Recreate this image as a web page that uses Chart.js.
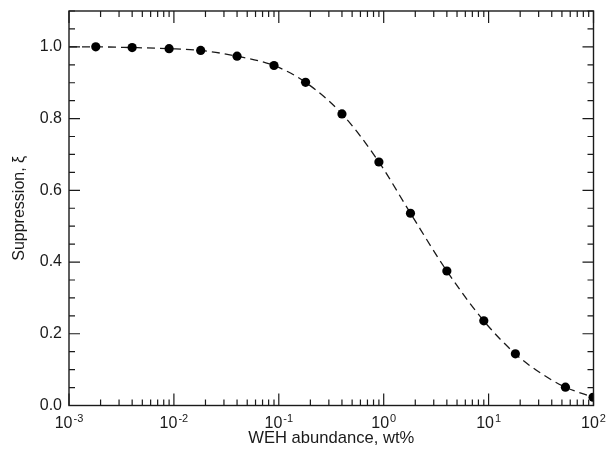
<!DOCTYPE html>
<html>
<head>
<meta charset="utf-8">
<script src="https://cdn.jsdelivr.net/npm/chart.js@4.4.1/dist/chart.umd.min.js"></script>
<style>
  html, body { margin: 0; padding: 0; background: #fff; }
  #wrap { width: 608px; height: 451px; }
</style>
</head>
<body>
<div id="wrap"><canvas id="myChart"></canvas></div>
<script>
// measured suppression vs. WEH abundance (wt%)
const abundance = [0.0018, 0.004, 0.009, 0.018, 0.04, 0.09, 0.18, 0.4, 0.9, 1.8, 4, 9, 18, 54, 99];
const suppression = [1.0, 0.998, 0.995, 0.99, 0.974, 0.948, 0.901, 0.813, 0.679, 0.536, 0.375, 0.236, 0.144, 0.051, 0.023];

// model curve (dashed)
const fitAbundance = [0.001, 0.0018, 0.004, 0.009, 0.018, 0.04, 0.09, 0.18, 0.4, 0.9, 1.8, 4, 9, 18, 30, 54, 100];
const fitSuppression = [1.0, 1.0, 0.998, 0.995, 0.99, 0.974, 0.948, 0.901, 0.813, 0.679, 0.536, 0.375, 0.236, 0.144, 0.094, 0.051, 0.023];

// y tick labels, x decades
const yTickValues = [0, 0.2, 0.4, 0.6, 0.8, 1.0];
const xDecades = [-3, -2, -1, 0, 1, 2];

const FONT = "'Liberation Sans', Arial, Helvetica, sans-serif";
const INK = "#1a1a1a";

// frame with inward ticks on all four sides, plus the 10^n labels
const frameTicks = {
    id: "frameTicks",
    afterDraw(chart) {
        const { ctx, chartArea: a } = chart;
        const x = chart.scales.x;
        const y = chart.scales.y;
        ctx.save();
        ctx.strokeStyle = INK;
        ctx.lineWidth = 1.4;
        ctx.strokeRect(a.left, a.top, a.right - a.left, a.bottom - a.top);

        ctx.lineWidth = 1.2;
        ctx.beginPath();
        // x ticks (decades long, 2..9 short)
        for (let e = -3; e <= 2; e++) {
            for (let m = 1; m <= 9; m++) {
                const v = m * Math.pow(10, e);
                if (v > 100.0001) break;
                const px = x.getPixelForValue(v);
                const len = m === 1 ? 12 : 6;
                ctx.moveTo(px, a.bottom);
                ctx.lineTo(px, a.bottom - len);
                ctx.moveTo(px, a.top);
                ctx.lineTo(px, a.top + len);
            }
        }
        // y ticks every 0.05, long every 0.2
        for (let i = 0; i <= 22; i++) {
            const v = i * 0.05;
            const py = y.getPixelForValue(v);
            const len = i % 4 === 0 ? 11 : 6;
            ctx.moveTo(a.left, py);
            ctx.lineTo(a.left + len, py);
            ctx.moveTo(a.right, py);
            ctx.lineTo(a.right - len, py);
        }
        ctx.stroke();

        // x tick labels with superscript exponents
        ctx.fillStyle = INK;
        ctx.textBaseline = "alphabetic";
        ctx.textAlign = "left";
        xDecades.forEach(function (e) {
            const px = x.getPixelForValue(Math.pow(10, e));
            const exp = String(e);
            ctx.font = "16px " + FONT;
            const wBase = ctx.measureText("10").width;
            ctx.font = "11px " + FONT;
            const wExp = ctx.measureText(exp).width;
            const x0 = px - (wBase + wExp + 1) / 2;
            ctx.font = "16px " + FONT;
            ctx.fillText("10", x0, a.bottom + 22);
            ctx.font = "11px " + FONT;
            ctx.fillText(exp, x0 + wBase + 1, a.bottom + 16);
        });
        ctx.restore();
    },
};

new Chart(document.getElementById("myChart"), {
    type: "scatter",
    data: {
        datasets: [
            {
                label: "fit",
                data: fitAbundance.map((v, i) => ({ x: v, y: fitSuppression[i] })),
                showLine: true,
                borderColor: INK,
                borderWidth: 1.3,
                borderDash: [8, 5],
                cubicInterpolationMode: "monotone",
                pointRadius: 0,
                order: 2,
            },
            {
                label: "data",
                data: abundance.map((v, i) => ({ x: v, y: suppression[i] })),
                showLine: false,
                backgroundColor: "#000",
                borderColor: "#000",
                pointRadius: 4.6,
                pointBorderWidth: 0,
                order: 1,
            },
        ],
    },
    options: {
        responsive: true,
        maintainAspectRatio: false,
        animation: false,
        layout: { padding: { top: 11, right: 14.5, left: 0, bottom: 0 } },
        plugins: {
            legend: { display: false },
            tooltip: { enabled: false },
        },
        scales: {
            x: {
                type: "logarithmic",
                min: 0.001,
                max: 100,
                grid: { display: false },
                border: { display: false },
                ticks: { display: false },
                title: {
                    display: true,
                    text: "WEH abundance, wt%",
                    color: INK,
                    font: { family: FONT, size: 16.6 },
                    padding: { top: 0, bottom: 3 },
                },
                afterFit(scale) {
                    scale.height = 45.5;
                    scale.paddingLeft = 0;
                    scale.paddingRight = 0;
                },
            },
            y: {
                min: 0,
                max: 1.1,
                grid: { display: false, drawTicks: false },
                border: { display: false },
                afterBuildTicks(scale) {
                    scale.ticks = yTickValues.map((v) => ({ value: v }));
                },
                ticks: {
                    color: INK,
                    padding: 7,
                    font: { family: FONT, size: 16 },
                    callback: (v) => Number(v).toFixed(1),
                },
                title: {
                    display: true,
                    text: "Suppression, ξ",
                    color: INK,
                    font: { family: FONT, size: 16 },
                    padding: { top: 10, bottom: 0 },
                },
                afterFit(scale) {
                    scale.width = 69;
                    scale.paddingTop = 0;
                    scale.paddingBottom = 0;
                },
            },
        },
    },
    plugins: [frameTicks],
});
</script>
</body>
</html>
